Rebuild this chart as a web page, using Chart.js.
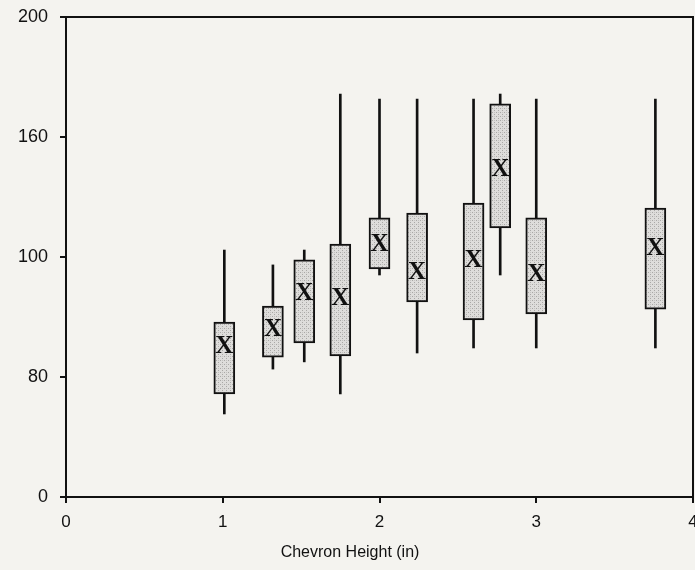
<!DOCTYPE html>
<html>
<head>
<meta charset="utf-8">
<script src="https://cdn.jsdelivr.net/npm/chart.js@4"></script>
<style>
  html, body { margin: 0; padding: 0; background: #f4f3ef; }
  #wrap { width: 695px; height: 570px; position: relative; }
</style>
</head>
<body>
<div id="wrap"><canvas id="chart"></canvas></div>
<script>
// chevron height (in) for each box
const heights     = [1.01, 1.32, 1.52, 1.75, 2.0, 2.24, 2.6, 2.77, 3.0, 3.76];
const whiskerLow  = [34.6, 53.3, 56.3, 42.9, 92.5, 60, 62.1, 92.5, 62.1, 62.1];
const boxLow      = [42.9, 58.3, 64.2, 58.8, 95, 81.3, 73.8, 112.1, 76.3, 78.3];
const boxHigh     = [72.9, 79.6, 98.8, 105.4, 116.3, 118.3, 122.5, 163.8, 116.3, 120.4];
const whiskerHigh = [102.9, 96.7, 102.9, 167.9, 165.8, 165.8, 165.8, 167.9, 165.8, 165.8];
const means       = [63.3, 70, 85, 83.3, 105.8, 93.8, 98.8, 136.7, 93.3, 103.8];

const yTickLabels = ["0", "80", "100", "160", "200"];
const xTickLabels = ["0", "1", "2", "3", "4"];
const xTitle = "Chevron Height (in)";

const FONT = "'Liberation Sans', Arial, sans-serif";

function stipple() {
  const c = document.createElement("canvas");
  c.width = 4; c.height = 4;
  const g = c.getContext("2d");
  g.fillStyle = "#dedddb";
  g.fillRect(0, 0, 4, 4);
  g.fillStyle = "#a9a8a6";
  g.fillRect(0, 0, 1, 1);
  g.fillRect(2, 2, 1, 1);
  g.fillStyle = "#c4c3c1";
  g.fillRect(2, 0, 1, 1);
  return g.createPattern(c, "repeat");
}

// top and right frame + axis title (sits a bit left of centre in the original)
const frame = {
  id: "frame",
  afterDraw(chart) {
    const { ctx, chartArea: a } = chart;
    ctx.save();
    ctx.strokeStyle = "#111";
    ctx.lineWidth = 2;
    ctx.beginPath();
    ctx.moveTo(a.left, a.top);
    ctx.lineTo(a.right, a.top);
    ctx.lineTo(a.right, a.bottom);
    ctx.stroke();
    ctx.font = "16px " + FONT;
    ctx.fillStyle = "#111";
    ctx.textAlign = "center";
    ctx.textBaseline = "middle";
    ctx.fillText(xTitle, a.left + (a.right - a.left) * 0.453, a.bottom + 56);
    ctx.restore();
  }
};

const xMarks = {
  id: "xMarks",
  afterDatasetsDraw(chart) {
    const meta = chart.getDatasetMeta(2);
    const ctx = chart.ctx;
    ctx.save();
    ctx.font = "bold 25px 'Liberation Serif', 'Times New Roman', serif";
    ctx.fillStyle = "#111";
    ctx.textAlign = "center";
    ctx.textBaseline = "middle";
    meta.data.forEach(p => ctx.fillText("X", p.x, p.y + 1));
    ctx.restore();
  }
};

new Chart(document.getElementById("chart"), {
  type: "bar",
  data: {
    datasets: [
      {
        label: "whisker",
        data: heights.map((h, i) => ({ x: h, y: [whiskerLow[i], whiskerHigh[i]] })),
        backgroundColor: "#111",
        barThickness: 2,
        grouped: false,
        order: 3
      },
      {
        label: "box",
        data: heights.map((h, i) => ({ x: h, y: [boxLow[i], boxHigh[i]] })),
        backgroundColor: stipple(),
        borderColor: "#111",
        borderWidth: 2,
        borderSkipped: false,
        barThickness: 21,
        grouped: false,
        order: 2
      },
      {
        type: "scatter",
        label: "mean",
        data: heights.map((h, i) => ({ x: h, y: means[i] })),
        pointRadius: 0,
        order: 1
      }
    ]
  },
  plugins: [frame, xMarks],
  options: {
    responsive: true,
    maintainAspectRatio: false,
    animation: false,
    layout: { padding: { top: 17, right: 2, left: 0, bottom: 0 } },
    plugins: {
      legend: { display: false },
      tooltip: { enabled: false }
    },
    scales: {
      x: {
        type: "linear",
        min: 0,
        max: 4,
        offset: false,
        afterFit: s => { s.height = 73; s.paddingLeft = 0; s.paddingRight = 0; },
        ticks: {
          stepSize: 1,
          color: "#111",
          padding: 9,
          maxRotation: 0,
          font: { family: FONT, size: 17 },
          callback: (v, i) => xTickLabels[i]
        },
        grid: { drawOnChartArea: false, tickLength: 6, color: "#111", lineWidth: 2, offset: false },
        border: { color: "#111", width: 2 }
      },
      y: {
        min: 0,
        max: 200,
        afterFit: s => { s.width = 66; s.paddingTop = 0; s.paddingBottom = 0; },
        ticks: {
          stepSize: 50,
          color: "#111",
          padding: 12,
          font: { family: FONT, size: 18 },
          callback: (v, i) => yTickLabels[i]
        },
        grid: { drawOnChartArea: false, tickLength: 6, color: "#111", lineWidth: 2 },
        border: { color: "#111", width: 2 }
      }
    }
  }
});
</script>
</body>
</html>
